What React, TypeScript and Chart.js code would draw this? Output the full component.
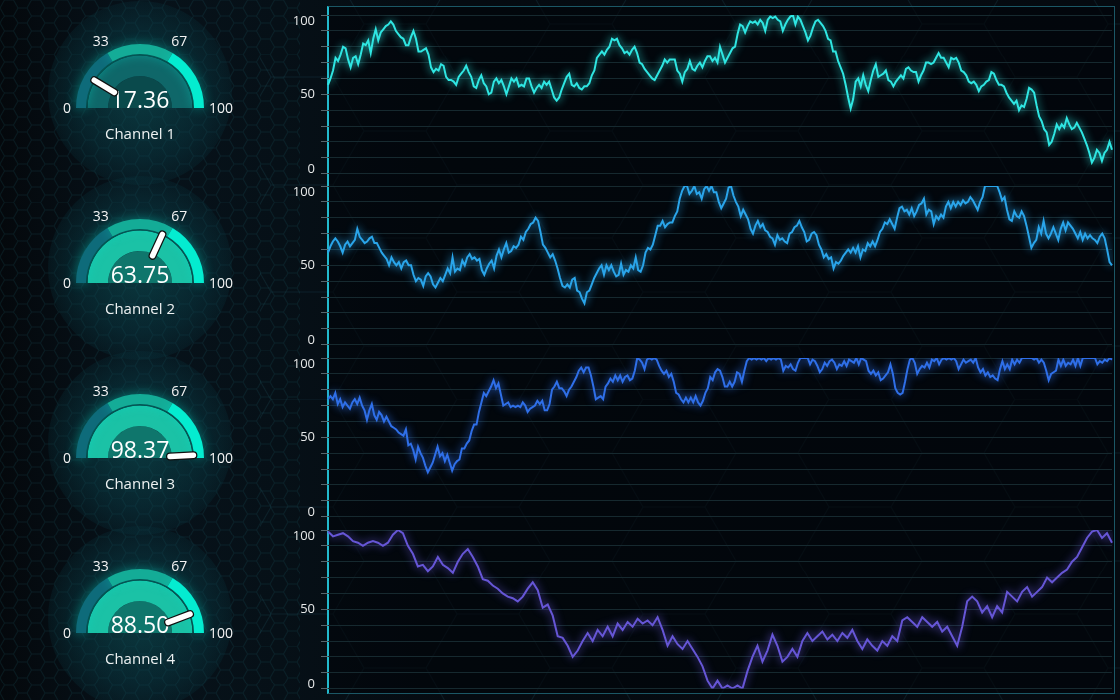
import React, { useEffect, useRef } from 'react';
import { Chart, registerables } from 'chart.js';

Chart.register(...registerables);

const FONT = '"Open Sans", "Noto Sans", sans-serif';

// ---------- data ----------
const channelNames = ['Channel 1', 'Channel 2', 'Channel 3', 'Channel 4'];
const gaugeValues = [17.36, 63.75, 98.37, 88.5];
const gaugeBands = [33, 34, 33];
const gaugeTickValues = [0, 33, 67, 100];
const yLabelValues = [0, 50, 100];
const lineColors = ['#2fe6e2', '#2aa5ea', '#2f6fe8', '#6656d6'];

const series1 = [
  56, 60, 65, 73, 71, 75, 80, 79, 72, 67, 73, 74, 69, 75, 82, 81, 84, 76, 85, 91, 84, 89, 91, 93, 94, 96, 94, 90, 88, 86,
  85, 81, 81, 86, 90, 85, 77, 77, 78, 79, 75, 67, 64, 66, 65, 69, 68, 61, 59, 59, 58, 56, 61, 63, 65, 68, 64, 61, 55, 54,
  59, 62, 57, 55, 50, 51, 58, 60, 57, 59, 55, 50, 55, 60, 58, 60, 55, 56, 55, 60, 60, 55, 51, 54, 56, 54, 58, 56, 58, 53,
  48, 46, 48, 53, 57, 61, 63, 56, 55, 57, 54, 53, 55, 55, 57, 62, 65, 73, 75, 77, 75, 78, 80, 85, 84, 85, 81, 79, 76, 77,
  75, 78, 80, 76, 70, 69, 66, 64, 62, 60, 59, 62, 65, 68, 72, 70, 72, 72, 72, 65, 63, 58, 64, 66, 71, 66, 65, 68, 70, 67,
  71, 74, 74,
  71, 73, 70, 80, 75, 70, 73, 76, 79, 80, 88, 94, 93, 89, 93, 96, 95, 96, 94, 97, 95, 90, 97, 99, 98, 99, 97, 96, 90, 94,
  97, 99, 100, 94, 99, 97, 93, 89, 84, 87, 92, 96, 97, 95, 93, 90, 85, 84, 77, 77, 71, 67, 63, 56, 48, 41, 47, 58, 60, 55,
  62, 56, 52, 59, 65, 69, 61, 62, 63, 65, 59, 58, 55, 58, 60, 62, 60, 66, 67, 65, 64, 64, 58, 62, 65, 70, 70, 69, 70, 73,
  76, 73, 73, 70, 67, 73, 72, 73, 70, 65, 64, 62, 58, 57, 58, 56, 52, 55, 56, 58, 59, 64, 63, 59, 56, 56, 55, 51, 48, 46,
  44, 46, 40, 43, 42, 47, 54, 53, 51, 43, 36, 33, 28, 26, 18, 20, 25, 31, 28, 31, 29, 35, 31, 28, 29, 32, 29, 26, 22, 18,
  13, 7, 10, 15, 13, 8, 13, 15, 20, 15,
];

const series2 = [
  58, 62, 65, 67, 65, 62, 58, 63, 65, 62, 64, 66, 73, 68, 66, 64, 65, 67, 68, 64, 64, 61, 58, 56, 54, 50, 55, 52, 50, 52,
  48, 52, 53, 50, 50, 44, 40, 42, 41, 37, 43, 45, 43, 38, 36, 39, 42, 40, 44, 48, 45, 55, 46, 48, 47, 53, 50, 55, 57, 54,
  55, 53, 54, 47, 44, 48, 51, 53, 48, 56, 60, 55, 60, 64, 58, 59, 62, 61, 63, 68, 66, 71, 73, 76, 77, 80, 78, 71, 63, 61,
  58, 55, 57, 53, 48, 42, 37, 36, 38, 36, 41, 42, 34, 33, 29, 26, 33, 34, 38, 42, 45, 48, 50, 44, 50, 47, 50, 46, 43, 44,
  51, 44, 47, 46, 50, 48, 55, 47, 46, 50, 58, 61, 60, 63, 69, 75, 75, 78, 74, 76, 77, 77, 81, 84, 92, 97, 100, 100, 95, 97,
  100, 95, 96, 92, 98, 100, 97, 100, 96, 96, 90, 86, 89,
  92, 99, 100, 94, 90, 87, 81, 85, 82, 79, 73, 70, 75, 78, 74, 76, 72, 71, 68, 67, 63, 69, 66, 67, 65, 64, 70, 71, 74, 75,
  78, 74, 71, 65, 66, 70, 71, 69, 63, 60, 55, 57, 54, 55, 48, 52, 51, 53, 56, 58, 60, 58, 61, 58, 62, 55, 60, 59, 64, 62,
  65, 62, 66, 71, 73, 77, 76, 79, 76, 73, 80, 86, 87, 84, 85, 82, 86, 81, 84, 88, 89, 92, 82, 85, 84, 76, 81, 79, 82, 80,
  87, 90, 86, 90, 87, 90, 88, 91, 89, 90, 93, 91, 88, 85, 90, 93, 100, 100, 100, 100, 100, 100, 96, 91, 93, 85, 79, 78, 84, 81,
  80, 84, 81, 75, 68, 61, 64, 66, 74, 70, 78, 70, 67, 70, 74, 70, 66, 73, 77, 72, 77, 75, 73, 70, 67, 71, 66, 70, 67, 69,
  67, 66, 64, 68, 70, 67, 60, 52, 50,
];

const series3 = [
  74, 76, 74, 78, 71, 74, 69, 72, 70, 68, 72, 74, 71, 75, 70, 67, 61, 67, 71, 64, 61, 66, 64, 60, 63, 60, 57, 56, 55, 53,
  52, 51, 55, 45, 46, 42, 36, 44, 40, 37, 32, 28, 31, 34, 39, 44, 38, 40, 35, 39, 34, 29, 33, 35, 36, 43, 43, 46, 48, 54,
  58, 58, 66, 72, 78, 76, 79, 82, 86, 81, 84, 77, 70, 71, 72, 69, 70, 69, 70, 69, 72, 70, 66, 68, 69, 70, 73, 71, 73, 67,
  67, 71, 80, 82, 85, 81, 81, 79, 76, 80, 82, 85, 88, 92, 94, 91, 94, 94, 89, 82, 74, 75, 76, 74, 82, 84, 87, 85, 89, 86,
  89, 85, 88, 89, 86, 87, 92, 100, 99, 97, 93, 99, 100, 99, 100, 99, 95, 92, 90, 92, 88, 90, 85, 78, 77, 74, 72, 75, 72, 75,
  72, 76, 72, 70, 73, 78, 81, 88, 86, 91, 93, 92, 88, 82,
  82, 85, 82, 85, 91, 90, 85, 92, 98, 100, 99, 100, 99, 100, 99, 100, 98, 100, 99, 100, 99, 100, 99, 92, 95, 94, 96, 93, 92, 97,
  100, 100, 100, 100, 96, 99, 98, 95, 91, 93, 97, 95, 98, 99, 97, 93, 96, 95, 98, 95, 99, 98, 97, 100, 96, 100, 99, 98, 92, 90,
  92, 89, 91, 86, 87, 89, 91, 96, 90, 81, 78, 77, 78, 85, 93, 99, 100, 97, 90, 93, 95, 94, 97, 94, 99, 98, 100, 96, 99, 100,
  99, 100, 99, 100, 98, 93, 96, 99, 97, 98, 99, 97, 100, 94, 91, 93, 89, 91, 88, 89, 87, 86, 93, 98, 93, 96, 93, 99, 96, 99,
  97, 100, 100, 100, 100, 100, 99, 100, 97, 99, 97, 92, 86, 90, 91, 92, 99, 95, 99, 95, 97, 96, 99, 95, 100, 95, 100, 100, 100, 100,
  100, 100, 96, 98, 97, 99, 98, 100, 99,
];

const series4 = [
  99, 96, 97, 98, 96, 93, 92, 90, 92, 93, 92, 90, 92, 97, 100, 98, 90, 85, 77, 78, 74, 77, 83, 78, 76, 73, 80, 85, 88, 83,
  77, 69, 68, 65, 63, 60, 58, 57, 55, 58, 63, 67, 62, 51, 53, 46, 33, 32,
  27, 20, 24, 30, 35, 30, 37, 33, 39, 33, 41, 37, 42, 39, 44, 41, 43, 40, 45, 37, 27, 33, 28, 25, 30, 25, 20, 14, 5, 0,
  5, 0, 2, 0, 2, 0, 11, 20, 27, 17, 24, 34, 27, 17, 20, 25, 20, 30, 35, 30, 33, 36, 31, 34, 30, 35, 32, 37, 30, 25,
  31, 27, 24, 30, 27, 33, 30, 43, 45, 42, 39, 45, 42, 39, 42, 36, 39, 33, 27, 39, 55, 58, 55, 48, 52, 45, 52, 48, 61, 58,
  55, 61, 64, 58, 61, 64, 70, 67, 70, 73, 75, 80, 83, 89, 95, 99, 100, 95, 98, 92,
];

const allSeries = [series1, series2, series3, series4];

// ---------- layout constants ----------
const GAUGE_W = 280;
const GAUGE_H = 175;
const CHART_LEFT = 276;
const CHART_W = 837;
const PLOT_TOP0 = 11.7;
const PLOT_STEP = 171.67;
const PLOT_H = 161.6;
const PAD = 16;

function hexPattern(r: number, stroke: string) {
  const h = Math.sqrt(3) * r;
  const w = 3 * r;
  const d = `M0,${h / 2} L${r / 2},0 L${1.5 * r},0 L${2 * r},${h / 2} L${1.5 * r},${h} L${r / 2},${h} Z M${2 * r},${h / 2} L${3 * r},${h / 2}`;
  const svg = `<svg xmlns='http://www.w3.org/2000/svg' width='${w}' height='${h}'><path d='${d}' fill='none' stroke='${stroke}' stroke-width='1'/></svg>`;
  return `url("data:image/svg+xml,${encodeURIComponent(svg)}")`;
}

const gaugePlugin = {
  id: 'gaugeDecor',
  beforeDatasetDraw(chart: any, args: any) {
    if (args.index === 0) {
      const ctx = chart.ctx;
      ctx.save();
      ctx.shadowColor = 'rgba(0,225,205,0.45)';
      ctx.shadowBlur = 12;
    }
  },
  afterDatasetDraw(chart: any, args: any) {
    if (args.index === 0) chart.ctx.restore();
  },
  afterDraw(chart: any, _args: any, opts: any) {
    const ctx = chart.ctx;
    const arc: any = chart.getDatasetMeta(2).data[0];
    if (!arc) return;
    const cx = arc.x;
    const cy = arc.y;
    ctx.save();
    ctx.fillStyle = '#f4f4f4';
    ctx.font = `14px ${FONT}`;
    ctx.textBaseline = 'middle';
    gaugeTickValues.forEach((t) => {
      const th = Math.PI * (1 - t / 100);
      if (t === 0) {
        ctx.textAlign = 'right';
        ctx.fillText(String(t), cx - 69, cy + 1);
      } else if (t === 100) {
        ctx.textAlign = 'left';
        ctx.fillText(String(t), cx + 69, cy + 1);
      } else {
        ctx.textAlign = 'center';
        ctx.fillText(String(t), cx + 77 * Math.cos(th), cy - 77 * Math.sin(th));
      }
    });
    ctx.textAlign = 'center';
    ctx.textBaseline = 'alphabetic';
    ctx.fillStyle = '#ffffff';
    ctx.font = `23px ${FONT}`;
    ctx.fillText(Number(opts.value).toFixed(2), cx, cy);
    ctx.font = `15px ${FONT}`;
    ctx.fillStyle = '#eef2f2';
    ctx.fillText(opts.name, cx, cy + 31);
    const a = arc.endAngle;
    const r1 = arc.innerRadius - 2;
    const r2 = arc.outerRadius + 1;
    const x1 = cx + r1 * Math.cos(a);
    const y1 = cy + r1 * Math.sin(a);
    const x2 = cx + r2 * Math.cos(a);
    const y2 = cy + r2 * Math.sin(a);
    ctx.lineCap = 'round';
    ctx.strokeStyle = '#101010';
    ctx.lineWidth = 8;
    ctx.beginPath();
    ctx.moveTo(x1, y1);
    ctx.lineTo(x2, y2);
    ctx.stroke();
    ctx.strokeStyle = '#ffffff';
    ctx.lineWidth = 5.5;
    ctx.beginPath();
    ctx.moveTo(x1, y1);
    ctx.lineTo(x2, y2);
    ctx.stroke();
    ctx.restore();
  },
};

function Gauge({ index }: { index: number }) {
  const ref = useRef<HTMLCanvasElement>(null);
  useEffect(() => {
    const v = gaugeValues[index];
    const low = v < gaugeBands[0];
    const fill = low ? '#0f6769' : '#1bc2a6';
    const disc = low ? '#0a4a4c' : '#0f766c';
    const chart = new Chart(ref.current as HTMLCanvasElement, {
      type: 'doughnut',
      data: {
        labels: ['0-33', '33-67', '67-100'],
        datasets: [
          { data: gaugeBands, backgroundColor: ['#0e6b7a', '#14ac97', '#04ecd0'], borderWidth: 0, weight: 10 } as any,
          { data: [100], backgroundColor: ['#063437'], borderWidth: 0, weight: 1.5 } as any,
          { data: [v, 100 - v], backgroundColor: [fill, fill], borderWidth: 0, weight: 20.5 } as any,
          { data: [100], backgroundColor: [disc], borderWidth: 0, weight: 32 } as any,
        ],
      },
      options: {
        responsive: false,
        animation: false,
        events: [],
        rotation: -90,
        circumference: 180,
        cutout: 0,
        layout: { padding: { left: 76, right: 76, top: 44, bottom: 67 } },
        plugins: {
          legend: { display: false },
          tooltip: { enabled: false },
          gaugeDecor: { value: v, name: channelNames[index] },
        } as any,
      },
      plugins: [gaugePlugin as any],
    });
    return () => chart.destroy();
  }, [index]);
  const top = index * GAUGE_H;
  return (
    <>
      <div
        style={{
          position: 'absolute',
          left: 140 - 92,
          top: top + 108 - 15 - 92,
          width: 184,
          height: 184,
          borderRadius: '50%',
          background:
            'radial-gradient(circle, rgba(14,95,100,0.5) 0%, rgba(10,70,80,0.38) 50%, rgba(6,40,50,0.16) 80%, rgba(5,20,30,0) 100%)',
        }}
      />
      <canvas
        ref={ref}
        width={GAUGE_W}
        height={GAUGE_H}
        style={{ position: 'absolute', left: 0, top, width: GAUGE_W, height: GAUGE_H }}
      />
    </>
  );
}

const glowPlugin = {
  id: 'lineGlow',
  beforeDatasetDraw(chart: any, args: any) {
    const ctx = chart.ctx;
    ctx.save();
    ctx.shadowColor = chart.data.datasets[args.index].borderColor;
    ctx.shadowBlur = 9;
  },
  afterDatasetDraw(chart: any) {
    chart.ctx.restore();
  },
};

function LineChart({ index }: { index: number }) {
  const ref = useRef<HTMLCanvasElement>(null);
  const h = Math.round(PLOT_H + 2 * PAD);
  useEffect(() => {
    const data = allSeries[index];
    const labels = data.map((_, i) => String(i));
    const chart = new Chart(ref.current as HTMLCanvasElement, {
      type: 'line',
      data: {
        labels,
        datasets: [
          {
            data,
            borderColor: lineColors[index],
            borderWidth: 2,
            pointRadius: 0,
            tension: 0,
            fill: false,
          },
        ],
      },
      options: {
        responsive: false,
        animation: false,
        events: [],
        layout: { padding: { top: PAD, bottom: h - PAD - PLOT_H, left: 0, right: 1 } },
        plugins: { legend: { display: false }, tooltip: { enabled: false } },
        scales: {
          x: { display: false, offset: false },
          y: {
            min: 0,
            max: 100,
            afterFit: (s: any) => {
              s.width = 52;
            },
            border: { display: false },
            grid: { color: '#16292f', tickColor: '#56666d', tickLength: 7, lineWidth: 1 },
            ticks: {
              stepSize: 10,
              autoSkip: false,
              padding: 6,
              color: '#e6e8e8',
              font: (c: any) => ({
                family: FONT,
                size: 13,
                lineHeight: c.tick && c.tick.value === 100 ? '13px' : c.tick && c.tick.value === 0 ? '9px' : 1.2,
              }),
              callback: (v: any) => {
                if (!yLabelValues.includes(v)) return '';
                if (v === 100) return ['', '100'];
                if (v === 0) return ['0', ''];
                return String(v);
              },
            } as any,
          },
        },
      },
      plugins: [glowPlugin as any],
    });
    return () => chart.destroy();
  }, [index]);
  const top = Math.round(PLOT_TOP0 + index * PLOT_STEP - PAD);
  return (
    <canvas
      ref={ref}
      width={CHART_W}
      height={h}
      style={{ position: 'absolute', left: CHART_LEFT, top, width: CHART_W, height: h }}
    />
  );
}

export default function App() {
  useEffect(() => {
    document.body.style.margin = '0';
    document.body.style.background = '#050a10';
  }, []);
  return (
    <div
      style={{
        position: 'fixed',
        left: 0,
        top: 0,
        width: 1120,
        height: 700,
        overflow: 'hidden',
        background: 'linear-gradient(90deg, #04080c 0%, #07121a 12%, #061017 25%, #050b11 40%, #050a10 100%)',
      }}
    >
      <div
        style={{
          position: 'absolute',
          left: 0,
          top: 0,
          width: 300,
          height: 700,
          backgroundImage: hexPattern(9, 'rgba(25,105,115,0.18)'),
        }}
      />
      <div
        style={{
          position: 'absolute',
          left: 260,
          top: 0,
          width: 860,
          height: 700,
          backgroundImage: hexPattern(62, 'rgba(30,90,105,0.22)'),
          backgroundPosition: '-20px -30px',
        }}
      />
      <div
        style={{
          position: 'absolute',
          left: 327,
          top: 6,
          width: 785,
          height: 686,
          background: 'rgba(1,5,9,0.62)',
          borderTop: '1px solid #1b5765',
          borderRight: '1px solid #1b5765',
          borderBottom: '1px solid #1b5765',
          borderLeft: '2px solid #22b9cd',
        }}
      />
      {channelNames.map((_, i) => (
        <Gauge key={'g' + i} index={i} />
      ))}
      {allSeries.map((_, i) => (
        <LineChart key={'c' + i} index={i} />
      ))}
    </div>
  );
}
